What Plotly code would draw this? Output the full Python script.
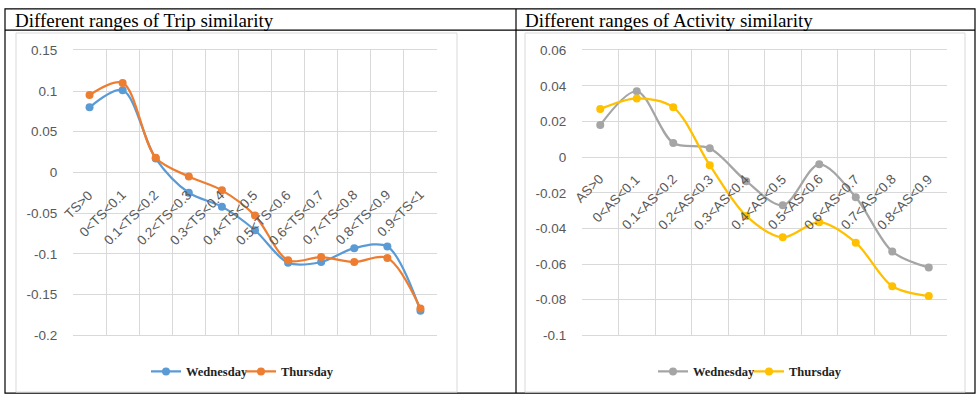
import plotly.graph_objects as go

# ---------------- data ----------------
trip_cats = ["TS>0", "0<TS<0.1", "0.1<TS<0.2", "0.2<TS<0.3", "0.3<TS<0.4", "0.4<TS<0.5",
             "0.5<TS<0.6", "0.6<TS<0.7", "0.7<TS<0.8", "0.8<TS<0.9", "0.9<TS<1"]
trip_wed = [0.080, 0.101, 0.017, -0.025, -0.042, -0.071, -0.111, -0.110, -0.093, -0.091, -0.170]
trip_thu = [0.095, 0.110, 0.018, -0.005, -0.022, -0.053, -0.108, -0.104, -0.110, -0.105, -0.167]

act_cats = ["AS>0", "0<AS<0.1", "0.1<AS<0.2", "0.2<AS<0.3", "0.3<AS<0.4", "0.4<AS<0.5",
            "0.5<AS<0.6", "0.6<AS<0.7", "0.7<AS<0.8", "0.8<AS<0.9"]
act_wed = [0.018, 0.037, 0.008, 0.005, -0.0135, -0.027, -0.004, -0.0225, -0.053, -0.062]
act_thu = [0.027, 0.033, 0.028, -0.0045, -0.033, -0.045, -0.0365, -0.048, -0.0725, -0.078]

trip_ticks = [0.15, 0.1, 0.05, 0, -0.05, -0.1, -0.15, -0.2]
trip_ticktext = ["0.15", "0.1", "0.05", "0", "-0.05", "-0.1", "-0.15", "-0.2"]
act_ticks = [0.06, 0.04, 0.02, 0, -0.02, -0.04, -0.06, -0.08, -0.1]
act_ticktext = ["0.06", "0.04", "0.02", "0", "-0.02", "-0.04", "-0.06", "-0.08", "-0.1"]

titles = ["Different ranges of Trip similarity", "Different ranges of Activity similarity"]
series_names = ["Wednesday", "Thursday"]

# ---------------- layout helpers ----------------
W, H = 976, 402
def fx(x):
    return x / W
def fy(y):
    return 1 - y / H

BLUE, ORANGE, GRAY, YELLOW = "#5B9BD5", "#ED7D31", "#A5A5A5", "#FFC000"
GRID = "#D9D9D9"
LABEL = "#595959"
SANS = "Liberation Sans"
SERIF = "Liberation Serif"

fig = go.Figure()

def add_line(x, y, name, color, xa, ya, legend):
    fig.add_trace(go.Scatter(
        x=x, y=y, name=name, mode="lines+markers",
        line=dict(color=color, width=2.25, shape="spline", smoothing=0.9),
        marker=dict(color=color, size=8),
        xaxis=xa, yaxis=ya, legend=legend,
    ))

add_line(trip_cats, trip_wed, series_names[0], BLUE, "x", "y", "legend")
add_line(trip_cats, trip_thu, series_names[1], ORANGE, "x", "y", "legend")
add_line(act_cats, act_wed, series_names[0], GRAY, "x2", "y2", "legend2")
add_line(act_cats, act_thu, series_names[1], YELLOW, "x2", "y2", "legend2")

ydom = [fy(341), fy(45)]

xaxis_common = dict(
    type="category", tickson="boundaries", showgrid=True, gridcolor=GRID, gridwidth=1,
    showticklabels=False, ticks="", showline=True, linecolor=GRID, mirror=True,
    zeroline=False, fixedrange=True,
)
yaxis_common = dict(
    showgrid=True, gridcolor=GRID, gridwidth=1, zeroline=True, zerolinecolor=GRID,
    zerolinewidth=1, showline=False, ticks="outside", ticklen=12, tickcolor="rgba(0,0,0,0)",
    tickfont=dict(family=SANS, size=13.5, color=LABEL), fixedrange=True,
)

legend_font = dict(family=SERIF, size=12.5, color="#222222", weight="bold")

fig.update_layout(
    width=W, height=H,
    margin=dict(l=0, r=0, t=0, b=0),
    paper_bgcolor="white", plot_bgcolor="white",
    xaxis=dict(domain=[fx(73), fx(437)], range=[-0.5, len(trip_cats) - 0.5], anchor="y", **xaxis_common),
    yaxis=dict(domain=ydom, range=[-0.2, 0.15], tickvals=trip_ticks, ticktext=trip_ticktext,
               anchor="x", **yaxis_common),
    xaxis2=dict(domain=[fx(582), fx(947)], range=[-0.5, len(act_cats) - 0.5], anchor="y2", **xaxis_common),
    yaxis2=dict(domain=ydom, range=[-0.1, 0.06], tickvals=act_ticks, ticktext=act_ticktext,
                anchor="x2", **yaxis_common),
    legend=dict(orientation="h", x=fx(146), y=fy(379), xanchor="left", yanchor="middle",
                font=legend_font, bgcolor="rgba(0,0,0,0)", itemwidth=30, tracegroupgap=0,
                entrywidth=50, entrywidthmode="pixels"),
    legend2=dict(orientation="h", x=fx(653), y=fy(379), xanchor="left", yanchor="middle",
                 font=legend_font, bgcolor="rgba(0,0,0,0)", itemwidth=30, tracegroupgap=0,
                 entrywidth=51, entrywidthmode="pixels"),
    showlegend=True,
)

# category labels along the zero line
annotations = []
for cats, xr, yr in [(trip_cats, "x", "y"), (act_cats, "x2", "y2")]:
    for c in cats:
        annotations.append(dict(
            x=c, y=0, xref=xr, yref=yr, text=c, showarrow=False, textangle=-45,
            xanchor="right", yanchor="top", xshift=9, yshift=-12,
            font=dict(family=SANS, size=13.5, color=LABEL),
        ))

# panel titles
annotations.append(dict(x=fx(13), y=fy(14), xref="paper", yref="paper", text=titles[0],
                        showarrow=False, xanchor="left", yanchor="middle",
                        font=dict(family=SERIF, size=19, color="black")))
annotations.append(dict(x=fx(523), y=fy(14), xref="paper", yref="paper", text=titles[1],
                        showarrow=False, xanchor="left", yanchor="middle",
                        font=dict(family=SERIF, size=19, color="black")))
fig.update_layout(annotations=annotations)

# table borders and chart frames
shapes = [
    dict(type="rect", xref="paper", yref="paper", x0=fx(5), x1=fx(975), y0=fy(401), y1=fy(2),
         line=dict(color="black", width=1.2)),
    dict(type="line", xref="paper", yref="paper", x0=fx(5), x1=fx(975), y0=fy(24), y1=fy(24),
         line=dict(color="black", width=1.2)),
    dict(type="line", xref="paper", yref="paper", x0=fx(516), x1=fx(516), y0=fy(2), y1=fy(401),
         line=dict(color="black", width=1.2)),
    dict(type="rect", xref="paper", yref="paper", x0=fx(16), x1=fx(457), y0=fy(400), y1=fy(27),
         line=dict(color=GRID, width=1)),
    dict(type="rect", xref="paper", yref="paper", x0=fx(525), x1=fx(965), y0=fy(400), y1=fy(27),
         line=dict(color=GRID, width=1)),
]
fig.update_layout(shapes=shapes)

fig.write_html("out.html")
